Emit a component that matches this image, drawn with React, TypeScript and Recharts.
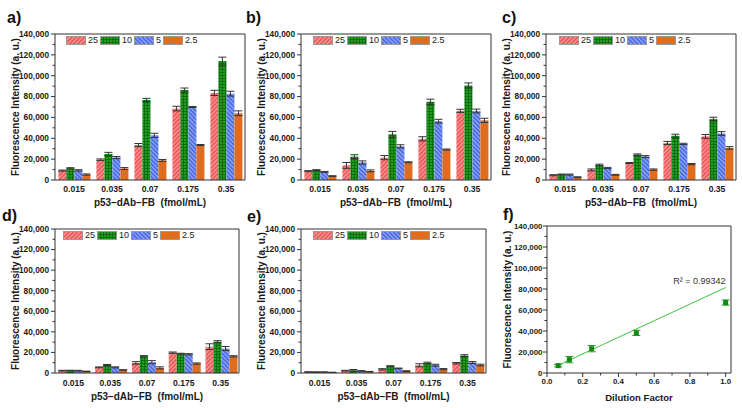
import React from "react";
import {
  BarChart,
  Bar,
  XAxis,
  YAxis,
  ErrorBar,
  Legend,
  ScatterChart,
  Scatter,
  ReferenceDot,
} from "recharts";

const FONT = "'Liberation Sans', Arial, Helvetica, sans-serif";
const AXIS = "#333333";
const TEXT = "#1a1a1a";

// categories and ticks
const categories = ["0.015", "0.035", "0.07", "0.175", "0.35"];
const yTicks = [0, 10000, 20000, 30000, 40000, 50000, 60000, 70000, 80000, 90000, 100000, 110000, 120000, 130000, 140000];
const fTicksX = [0, 0.1, 0.2, 0.3, 0.4, 0.5, 0.6, 0.7, 0.8, 0.9, 1.0];

// panel a
const a25 = [9000, 19500, 33500, 68500, 83500];
const a10 = [11200, 25000, 76800, 86200, 114000];
const a5 = [9200, 21500, 42800, 70000, 82800];
const a2_5 = [5200, 11000, 18800, 33500, 64000];
const aErr25 = [500, 700, 1500, 2200, 2500];
const aErr10 = [600, 1500, 1500, 2000, 3800];
const aErr5 = [700, 1000, 2000, 500, 2300];
const aErr2_5 = [600, 900, 900, 500, 2300];

// panel b
const b25 = [8500, 14000, 21500, 39500, 66300];
const b10 = [9500, 22400, 43800, 75000, 90600];
const b5 = [7800, 16800, 32300, 56400, 66200];
const b2_5 = [3800, 8800, 17000, 29200, 57200];
const bErr25 = [500, 2800, 2000, 2000, 1500];
const bErr10 = [400, 1800, 2800, 2500, 2500];
const bErr5 = [400, 1500, 1500, 1800, 1800];
const bErr2_5 = [300, 900, 500, 500, 2000];

// panel c
const c25 = [4600, 9700, 16300, 35500, 41800];
const c10 = [5300, 14400, 24300, 42400, 58400];
const c5 = [5200, 11500, 22500, 34600, 44600];
const c2_5 = [2700, 5000, 10000, 15200, 30800];
const cErr25 = [500, 900, 500, 1500, 1800];
const cErr10 = [400, 800, 700, 1500, 1800];
const cErr5 = [500, 600, 900, 600, 1800];
const cErr2_5 = [400, 400, 600, 600, 1200];

// panel d
const d25 = [2300, 5500, 9800, 19800, 25600];
const d10 = [2400, 7800, 16300, 18800, 30400];
const d5 = [2300, 5500, 10500, 18200, 23800];
const d2_5 = [1600, 2900, 5000, 9200, 16200];
const dErr25 = [300, 400, 1200, 600, 2800];
const dErr10 = [300, 500, 600, 400, 1000];
const dErr5 = [300, 500, 1500, 600, 2000];
const dErr2_5 = [200, 300, 1000, 600, 600];

// panel e
const e25 = [1000, 2300, 3600, 7500, 9500];
const e10 = [900, 2600, 6600, 9700, 16900];
const e5 = [900, 2000, 4500, 7600, 10200];
const e2_5 = [600, 1300, 1900, 3700, 7800];
const eErr25 = [200, 300, 600, 1500, 700];
const eErr10 = [200, 800, 500, 800, 900];
const eErr5 = [200, 300, 300, 900, 900];
const eErr2_5 = [100, 200, 300, 600, 800];

// panel f
const dilution = [0.0625, 0.125, 0.25, 0.5, 1.0];
const fMean = [7000, 12700, 23200, 38200, 67100];
const fErr = [1200, 3000, 3000, 2500, 2500];
const fitX = [0.0625, 1.0];
const fitY = [7300, 81400];

const SERIES = [
  { key: "v25", err: "e25", name: "25", fill: "url(#pRed)" },
  { key: "v10", err: "e10", name: "10", fill: "url(#pGreen)" },
  { key: "v5", err: "e5", name: "5", fill: "url(#pBlue)" },
  { key: "v2_5", err: "e2_5", name: "2.5", fill: "#e06c1d" },
];

const buildRows = (v25: number[], v10: number[], v5: number[], v2_5: number[], e25: number[], e10: number[], e5: number[], e2_5: number[]) =>
  categories.map((cat, i) => ({
    cat,
    v25: v25[i], v10: v10[i], v5: v5[i], v2_5: v2_5[i],
    e25: e25[i], e10: e10[i], e5: e5[i], e2_5: e2_5[i],
  }));

const dataA = buildRows(a25, a10, a5, a2_5, aErr25, aErr10, aErr5, aErr2_5);
const dataB = buildRows(b25, b10, b5, b2_5, bErr25, bErr10, bErr5, bErr2_5);
const dataC = buildRows(c25, c10, c5, c2_5, cErr25, cErr10, cErr5, cErr2_5);
const dataD = buildRows(d25, d10, d5, d2_5, dErr25, dErr10, dErr5, dErr2_5);
const dataE = buildRows(e25, e10, e5, e2_5, eErr25, eErr10, eErr5, eErr2_5);
const dataF = dilution.map((x, i) => ({ x, y: fMean[i], err: fErr[i] }));
const fitLine = fitX.map((x, i) => ({ x, y: fitY[i] }));

const makeYTick = (fontSize: number, gap: number) => (props: any) => {
  const { x, y, payload } = props;
  const v = payload.value;
  const major = v % 20000 === 0;
  return (
    <g>
      <line x1={x - (major ? 4 : 2.5)} x2={x} y1={y} y2={y} stroke={AXIS} />
      {major && (
        <text x={x - gap} y={y} dy="0.35em" textAnchor="end" fontSize={fontSize} fontWeight="bold" fill={TEXT} fontFamily={FONT}>
          {v.toLocaleString("en-US")}
        </text>
      )}
    </g>
  );
};

const YTickBar = makeYTick(8.3, 6);
const YTickF = makeYTick(7.9, 4.5);

const XTickF = (props: any) => {
  const { x, y, payload } = props;
  const v = payload.value;
  const major = Math.round(v * 10) % 2 === 0;
  return (
    <g>
      <line x1={x} x2={x} y1={y} y2={y + (major ? 4 : 2.5)} stroke={AXIS} />
      {major && (
        <text x={x} y={y + 11} textAnchor="middle" fontSize={7.9} fontWeight="bold" fill={TEXT} fontFamily={FONT}>
          {v.toFixed(1)}
        </text>
      )}
    </g>
  );
};

const YTitle = (props: any) => {
  const vb = props.viewBox || {};
  const cx = vb.x + vb.width - 40;
  const cy = vb.y + vb.height / 2;
  return (
    <text
      x={cx}
      y={cy}
      dy="0.35em"
      textAnchor="middle"
      transform={`rotate(-90, ${cx}, ${cy})`}
      fontSize={10}
      fontWeight="bold"
      fill={TEXT}
      fontFamily={FONT}
    >
      Fluorescence Intensity (a. u.)
    </text>
  );
};

const LegendRow = () => (
  <div style={{ display: "flex", alignItems: "center", fontFamily: FONT, fontSize: 9, color: TEXT, lineHeight: "9px", whiteSpace: "nowrap" }}>
    {SERIES.map((s) => (
      <span key={s.key} style={{ display: "flex", alignItems: "center", marginRight: 2 }}>
        <svg width={20} height={9} style={{ display: "block", marginRight: 2 }}>
          <rect x={0.5} y={0.5} width={19} height={8} fill={s.fill} stroke="#9a9a9a" strokeWidth={1} />
        </svg>
        <span>{s.name}</span>
      </span>
    ))}
  </div>
);

const Y_W = 55;

const BarPanel = ({ data, L, T, R, B, tickMargin, titleOffset, legendDx }: any) => {
  const width = Y_W + (R - L) + 1 + 6;
  const height = 10 + (B - T) + 32;
  return (
    <div style={{ position: "absolute", left: L - Y_W, top: T - 10 }}>
      <BarChart
        width={width}
        height={height}
        data={data}
        margin={{ top: 9, right: 6, bottom: 0, left: 0 }}
        barCategoryGap="9%"
        barGap={0}
      >
        <XAxis xAxisId="top" orientation="top" dataKey="cat" height={1} tick={false} tickLine={false} axisLine={{ stroke: AXIS }} />
        <YAxis yAxisId="right" orientation="right" width={1} domain={[0, 140000]} tick={false} tickLine={false} axisLine={{ stroke: AXIS }} />
        <XAxis
          dataKey="cat"
          height={32}
          tickLine={false}
          tickSize={0}
          tickMargin={tickMargin}
          interval={0}
          axisLine={{ stroke: AXIS }}
          tick={{ fontSize: 8.6, fontWeight: "bold", fill: TEXT, fontFamily: FONT }}
          label={{
            value: "p53–dAb–FB\u00A0 (fmol/mL)",
            position: "insideBottom",
            offset: titleOffset,
            style: { fontSize: 10, fontWeight: "bold", fill: TEXT, fontFamily: FONT },
          }}
        />
        <YAxis
          width={Y_W}
          domain={[0, 140000]}
          ticks={yTicks}
          interval={0}
          tickSize={0}
          tickMargin={0}
          tickLine={false}
          axisLine={{ stroke: AXIS }}
          tick={(p: any) => <YTickBar {...p} />}
          label={(p: any) => <YTitle {...p} />}
        />
        <Legend
          layout="vertical"
          verticalAlign="middle"
          align="center"
          wrapperStyle={{ top: 12, left: Y_W + legendDx, width: "auto" }}
          content={() => <LegendRow />}
        />
        {SERIES.map((s) => (
          <Bar key={s.key} dataKey={s.key} name={s.name} fill={s.fill} isAnimationActive={false}>
            <ErrorBar dataKey={s.err} width={4} stroke={AXIS} strokeWidth={1} />
          </Bar>
        ))}
      </BarChart>
    </div>
  );
};

const Square = (props: any) => {
  const { cx, cy } = props;
  return <rect x={cx - 2.5} y={cy - 2.5} width={5} height={5} fill="#128a12" />;
};

const FitPanel = () => {
  const L = 547, T = 226, R = 731, B = 373;
  const width = Y_W + (R - L) + 1 + 6;
  const height = 10 + (B - T) + 32;
  return (
    <div style={{ position: "absolute", left: L - Y_W, top: T - 10 }}>
      <ScatterChart width={width} height={height} margin={{ top: 9, right: 6, bottom: 0, left: 0 }}>
        <XAxis xAxisId="top" orientation="top" type="number" dataKey="x" domain={[0, 1.03]} height={1} tick={false} tickLine={false} axisLine={{ stroke: AXIS }} />
        <YAxis yAxisId="right" orientation="right" type="number" width={1} domain={[0, 140000]} tick={false} tickLine={false} axisLine={{ stroke: AXIS }} />
        <XAxis
          type="number"
          dataKey="x"
          domain={[0, 1.03]}
          ticks={fTicksX}
          interval={0}
          height={32}
          tickSize={0}
          tickMargin={0}
          tickLine={false}
          axisLine={{ stroke: AXIS }}
          tick={(p: any) => <XTickF {...p} />}
          allowDataOverflow
          label={{
            value: "Dilution Factor",
            position: "insideBottom",
            offset: 4,
            style: { fontSize: 9.6, fontWeight: "bold", fill: TEXT, fontFamily: FONT },
          }}
        />
        <YAxis
          type="number"
          dataKey="y"
          width={Y_W}
          domain={[0, 140000]}
          ticks={yTicks}
          interval={0}
          tickSize={0}
          tickMargin={0}
          tickLine={false}
          axisLine={{ stroke: AXIS }}
          tick={(p: any) => <YTickF {...p} />}
          label={(p: any) => <YTitle {...p} />}
        />
        <Scatter
          data={fitLine}
          line={{ stroke: "#3fc43f", strokeWidth: 1 }}
          shape={() => <g />}
          legendType="none"
          isAnimationActive={false}
        />
        <Scatter data={dataF} shape={(p: any) => <Square {...p} />} isAnimationActive={false}>
          <ErrorBar dataKey="err" direction="y" width={4} stroke="#2a9d2a" strokeWidth={1} />
        </Scatter>
        <ReferenceDot
          x={1}
          y={87500}
          r={0.01}
          fill="none"
          stroke="none"
          label={{ value: "R² = 0.99342", position: "left", offset: 0, fontSize: 9, fill: "#333", fontFamily: FONT }}
        />
      </ScatterChart>
    </div>
  );
};

const panelLetter = (txt: string, left: number, top: number) => (
  <div
    key={txt}
    style={{ position: "absolute", left, top, fontFamily: FONT, fontWeight: "bold", fontSize: 16, lineHeight: 1, color: "#111" }}
  >
    {txt}
  </div>
);

const App = () => {
  return (
    <div style={{ position: "fixed", left: 0, top: 0, width: 742, height: 408, background: "#fff", fontFamily: FONT, overflow: "hidden" }}>
      <svg width={0} height={0} style={{ position: "absolute" }}>
        <defs>
          <pattern id="pRed" width="3" height="3" patternUnits="userSpaceOnUse" patternTransform="rotate(45)">
            <rect width="3" height="3" fill="#ee5b5b" />
            <line x1="0.5" y1="0" x2="0.5" y2="3" stroke="#f7a5a5" strokeWidth="1" />
          </pattern>
          <pattern id="pGreen" width="3" height="3" patternUnits="userSpaceOnUse">
            <rect width="3" height="3" fill="#1f9e1f" />
            <path d="M0 0.5H3M0.5 0V3" stroke="#0c640c" strokeWidth="0.8" />
          </pattern>
          <pattern id="pBlue" width="3" height="3" patternUnits="userSpaceOnUse" patternTransform="rotate(-45)">
            <rect width="3" height="3" fill="#4f6fe6" />
            <line x1="0.5" y1="0" x2="0.5" y2="3" stroke="#9db0f5" strokeWidth="1" />
          </pattern>
        </defs>
      </svg>
      <BarPanel data={dataA} L={55} T={34} R={245} B={180} tickMargin={5.5} titleOffset={6} legendDx={11} />
      <BarPanel data={dataB} L={301} T={34} R={491} B={180} tickMargin={5.5} titleOffset={6} legendDx={12} />
      <BarPanel data={dataC} L={546} T={34} R={736} B={180} tickMargin={5.5} titleOffset={6} legendDx={13} />
      <BarPanel data={dataD} L={55} T={229} R={239} B={373} tickMargin={7} titleOffset={5} legendDx={8} />
      <BarPanel data={dataE} L={301} T={229} R={486} B={373} tickMargin={7} titleOffset={5} legendDx={12} />
      <FitPanel />
      {panelLetter("a)", 7, 10)}
      {panelLetter("b)", 246, 10)}
      {panelLetter("c)", 502, 10)}
      {panelLetter("d)", 2, 208)}
      {panelLetter("e)", 247, 209)}
      {panelLetter("f)", 503, 207)}
    </div>
  );
};

export default App;
